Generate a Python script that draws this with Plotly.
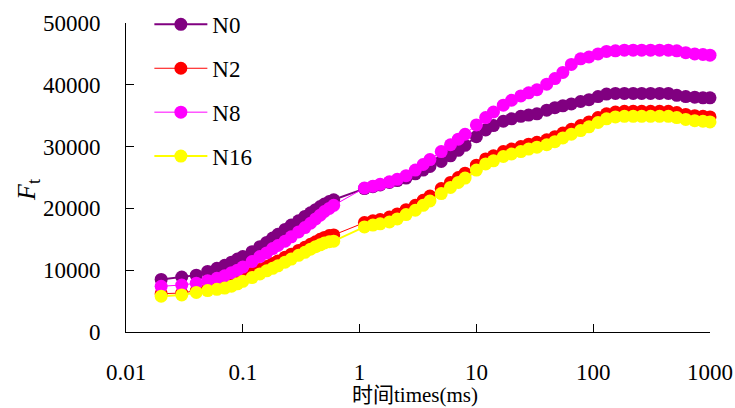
import plotly.graph_objects as go

# time (ms)
t_early = [0.02, 0.03, 0.04, 0.05, 0.06, 0.07, 0.08, 0.09, 0.1, 0.12, 0.14, 0.16, 0.18, 0.2,
           0.23, 0.26, 0.3, 0.34, 0.38, 0.42, 0.46, 0.5, 0.55, 0.6]
t_late = [1.1, 1.3, 1.5, 1.8, 2.1, 2.5, 3, 3.5, 4, 5, 6, 7, 8, 10, 12, 14, 17, 20, 24, 28, 33,
          40, 47, 55, 65, 78, 92, 110, 130, 155, 185, 220, 260, 310, 370, 440, 520, 620, 740, 870, 1000]
times = t_early + t_late

n0 = [8500, 8900, 9200, 9800, 10300, 10800, 11300, 11800, 12200, 13000, 13800, 14500, 15200, 15800,
      16600, 17300, 18000, 18700, 19300, 19800, 20300, 20700, 21100, 21400,
      23200, 23500, 23800, 24200, 24500, 24900, 25600, 26200, 26800, 27600, 28500, 29400, 30200,
      31600, 32700, 33400, 34100, 34500, 34900, 35100, 35300, 35900, 36300, 36600, 36900, 37300,
      37600, 38100, 38500, 38600, 38600, 38600, 38600, 38600, 38600, 38600, 38300, 38100, 38000,
      37900, 37900]
n2 = [6200, 6300, 6700, 7000, 7300, 7600, 8000, 8400, 8800, 9500, 10100, 10600, 11100, 11500,
      12100, 12600, 13200, 13700, 14200, 14600, 15000, 15300, 15600, 15700,
      17700, 18000, 18200, 18600, 19100, 19800, 20500, 21300, 22000, 23200, 24200, 25000, 25700,
      27000, 28000, 28500, 29200, 29600, 30000, 30400, 30700, 31100, 31600, 32200, 32800, 33400,
      34000, 34700, 35300, 35600, 35700, 35700, 35700, 35700, 35700, 35700, 35500, 35200, 35000,
      34900, 34800]
n8 = [7400, 7600, 7900, 8300, 8700, 9100, 9600, 10000, 10500, 11400, 12200, 12800, 13500, 14000,
      14700, 15400, 16200, 16900, 17600, 18300, 18900, 19500, 20000, 20500,
      23300, 23600, 23900, 24300, 24700, 25300, 26200, 27100, 27900, 29200, 30300, 31200, 32000,
      33500, 34700, 35600, 36700, 37500, 38200, 38700, 39200, 40100, 41000, 42000, 43300, 44200,
      44500, 45000, 45400, 45500, 45600, 45600, 45600, 45600, 45600, 45600, 45500, 45200, 45000,
      44900, 44800]
n16 = [5800, 6000, 6400, 6700, 6900, 7100, 7400, 7800, 8200, 8800, 9400, 9900, 10300, 10700,
       11300, 11800, 12400, 12900, 13400, 13800, 14100, 14400, 14600, 14700,
       17000, 17300, 17500, 17800, 18300, 19000, 19700, 20500, 21200, 22400, 23400, 24200, 24900,
       26200, 27200, 27700, 28400, 28800, 29200, 29600, 29900, 30300, 30800, 31400, 32000, 32600,
       33200, 33900, 34500, 34800, 34900, 34900, 34900, 34900, 34900, 34900, 34700, 34400, 34200,
       34100, 34000]

series = [("N0", n0, "#800080", 2), ("N2", n2, "#FF0000", 1),
          ("N8", n8, "#FF00FF", 1), ("N16", n16, "#FFFF00", 2)]

x_ticks = [0.01, 0.1, 1, 10, 100, 1000]
x_ticktext = ["0.01", "0.1", "1", "10", "100", "1000"]
y_ticks = [0, 10000, 20000, 30000, 40000, 50000]
y_ticktext = ["0", "10000", "20000", "30000", "40000", "50000"]

FONT = "Liberation Serif, 'Noto Sans CJK SC', serif"

fig = go.Figure()
for name, vals, col, lw in series:
    fig.add_trace(go.Scatter(
        x=times, y=vals, name=name, mode="lines+markers",
        line=dict(color=col, width=lw),
        marker=dict(color=col, size=13),
        cliponaxis=False, legendgroup=name,
    ))

fig.update_layout(
    width=735, height=408,
    margin=dict(l=126, r=25, t=23, b=76, autoexpand=False),
    paper_bgcolor="white", plot_bgcolor="white",
    font=dict(family=FONT, size=23, color="black"),
    showlegend=True,
    legend=dict(x=0.040, y=1.065, xanchor="left", yanchor="top",
                font=dict(family=FONT, size=23, color="black"),
                bgcolor="rgba(0,0,0,0)", itemwidth=53, tracegroupgap=11),
    xaxis=dict(type="log", range=[-2, 3], tickvals=x_ticks, ticktext=x_ticktext,
               showline=True, linecolor="black", linewidth=1, ticks="inside",
               ticklen=8, tickcolor="black", showgrid=False, zeroline=False,
               automargin=False, ticklabelstandoff=19, tickfont=dict(size=23)),
    yaxis=dict(range=[0, 50000], tickvals=y_ticks, ticktext=y_ticktext,
               showline=True, linecolor="black", linewidth=1, ticks="inside",
               ticklen=8, tickcolor="black", showgrid=False, zeroline=False,
               automargin=False, ticklabelstandoff=20, tickfont=dict(size=23)),
    annotations=[
        dict(text="时间times(ms)", xref="paper", yref="paper",
             x=(415 - 126) / 584, y=(332 - 395) / 309, xanchor="center", yanchor="middle",
             showarrow=False, font=dict(family=FONT, size=21)),
        dict(text="<i>F</i><sub>t</sub>", xref="paper", yref="paper",
             x=(28 - 126) / 584, y=(332 - 190) / 309, xanchor="center", yanchor="middle",
             textangle=-90, showarrow=False, font=dict(family=FONT, size=26)),
    ],
)

fig.write_html("out.html")
